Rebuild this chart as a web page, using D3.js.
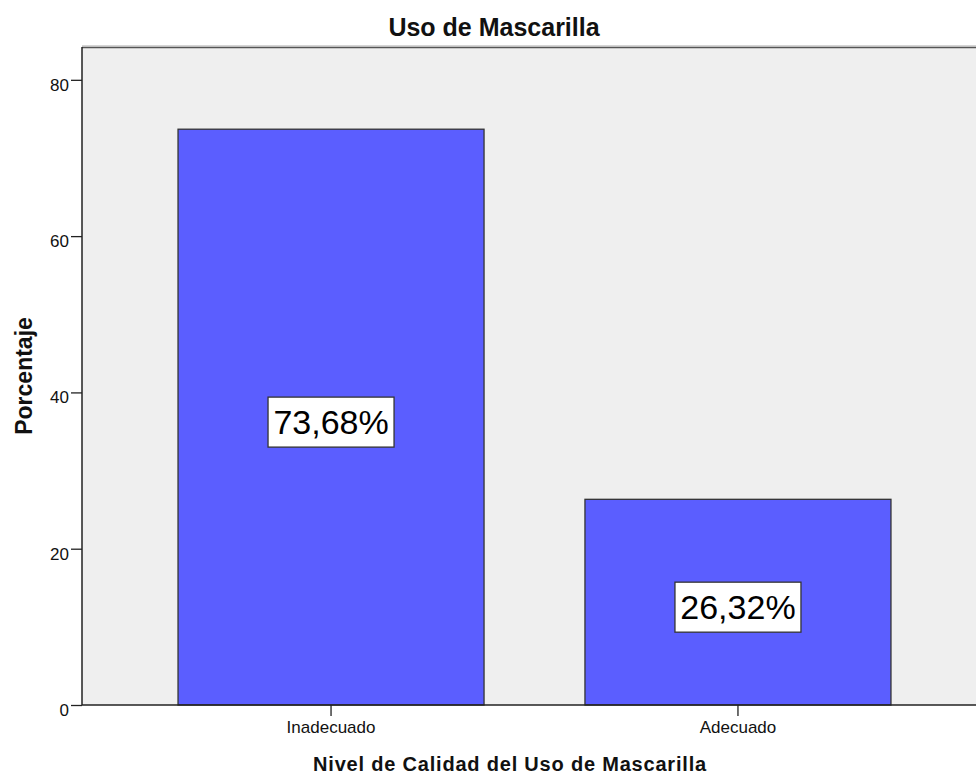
<!DOCTYPE html>
<html>
<head>
<meta charset="utf-8">
<script src="https://cdn.jsdelivr.net/npm/d3@7"></script>
<style>
  html, body { margin: 0; padding: 0; background: #ffffff; }
  svg { display: block; font-family: "Liberation Sans", Arial, sans-serif; }
</style>
</head>
<body>
<svg id="chart" width="976" height="776"></svg>
<script>
const categories = ["Inadecuado", "Adecuado"];
const values = [73.68, 26.32];
const valueLabels = ["73,68%", "26,32%"];
const yTicks = [0, 20, 40, 60, 80];
const chartTitle = "Uso de Mascarilla";
const xTitle = "Nivel de Calidad del Uso de Mascarilla";
const yTitle = "Porcentaje";

const svg = d3.select("#chart");
const pLeft = 82, pRight = 987, pTop = 47, pBottom = 705;

const x = d3.scaleBand().domain(categories).range([pLeft, pRight])
  .paddingInner(0.248).paddingOuter(0.236);
const y = d3.scaleLinear().domain([0, 84.2]).range([pBottom, pTop]);

// plot background
svg.append("rect").attr("x", pLeft).attr("y", pTop)
  .attr("width", pRight - pLeft).attr("height", pBottom - pTop)
  .attr("fill", "#efefef");

// top border
svg.append("line").attr("x1", pLeft).attr("x2", 976).attr("y1", pTop + 0.5).attr("y2", pTop + 0.5)
  .attr("stroke", "#555").attr("stroke-width", 1.5);
svg.append("line").attr("x1", pLeft).attr("x2", 976).attr("y1", pTop - 1).attr("y2", pTop - 1)
  .attr("stroke", "#aaa").attr("stroke-width", 1);

// bars
svg.selectAll("rect.bar").data(values).enter().append("rect")
  .attr("class", "bar")
  .attr("x", (d, i) => x(categories[i]))
  .attr("y", d => y(d))
  .attr("width", x.bandwidth())
  .attr("height", d => y(0) - y(d))
  .attr("fill", "#5b5eff")
  .attr("stroke", "#333")
  .attr("stroke-width", 1.3);

// y axis
const yAxis = d3.axisLeft(y).tickValues(yTicks).tickSize(11).tickPadding(2).tickFormat(d3.format("d"));
const gy = svg.append("g").attr("transform", `translate(${pLeft},0)`).call(yAxis);
gy.select(".domain").attr("d", `M0,${pTop}V${pBottom}`).attr("stroke", "#222").attr("stroke-width", 1.5);
gy.selectAll(".tick line").attr("stroke", "#222").attr("stroke-width", 1.3);
gy.selectAll(".tick text").attr("font-size", 17).attr("fill", "#111").attr("dy", "0.62em")
  .style("font-family", "'Liberation Sans', Arial, sans-serif");

// x axis
const xAxis = d3.axisBottom(x).tickSize(11).tickPadding(5);
const gx = svg.append("g").attr("transform", `translate(0,${pBottom})`).call(xAxis);
gx.select(".domain").attr("d", `M${pLeft},0H976`).attr("stroke", "#222").attr("stroke-width", 1.5);
gx.selectAll(".tick line").attr("stroke", "#222").attr("stroke-width", 1.3);
gx.selectAll(".tick text").attr("font-size", 17).attr("fill", "#111")
  .style("font-family", "'Liberation Sans', Arial, sans-serif");

// value labels
const lab = svg.selectAll("g.vlab").data(values).enter().append("g")
  .attr("class", "vlab")
  .attr("transform", (d, i) => `translate(${x(categories[i]) + x.bandwidth() / 2},${y(d / 2) + 5})`);
lab.append("rect").attr("x", -63).attr("y", -25).attr("width", 126).attr("height", 50)
  .attr("fill", "#fff").attr("stroke", "#333").attr("stroke-width", 1.3);
lab.append("text").attr("text-anchor", "middle").attr("dy", "0.36em")
  .attr("font-size", 34).attr("fill", "#000")
  .text((d, i) => valueLabels[i]);

// titles
svg.append("text").attr("x", 494).attr("y", 36)
  .attr("text-anchor", "middle").attr("font-size", 25).attr("font-weight", "bold").attr("fill", "#111")
  .text(chartTitle);
svg.append("text").attr("x", 510).attr("y", 771)
  .attr("text-anchor", "middle").attr("font-size", 20).attr("font-weight", "bold").attr("fill", "#111")
  .attr("letter-spacing", 0.8)
  .text(xTitle);
svg.append("text").attr("transform", "translate(32,376) rotate(-90)")
  .attr("text-anchor", "middle").attr("font-size", 23).attr("font-weight", "bold").attr("fill", "#111")
  .text(yTitle);
</script>
</body>
</html>
